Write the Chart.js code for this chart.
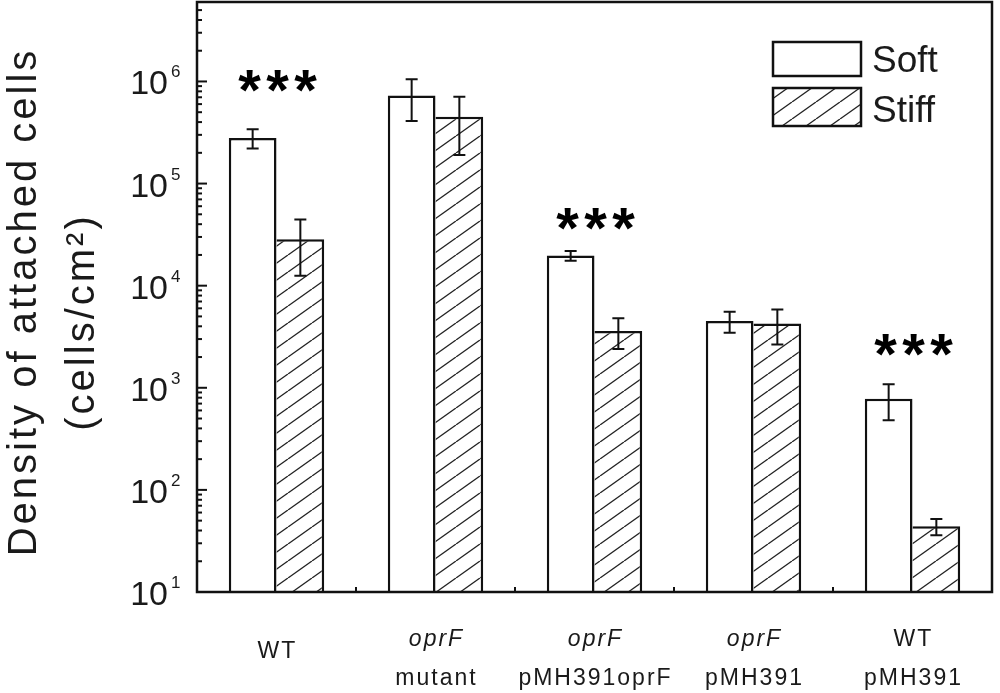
<!DOCTYPE html>
<html>
<head>
<meta charset="utf-8">
<script src="https://cdn.jsdelivr.net/npm/chart.js@4/dist/chart.umd.min.js"></script>
<style>
  html, body { margin: 0; padding: 0; background: #fff; }
  canvas { display: block; }
</style>
</head>
<body>
<canvas id="chart" width="1000" height="693"></canvas>
<script>
// values (cells/cm2, log axis)
const categories = ["WT", "oprF mutant", "oprF pMH391oprF", "oprF pMH391", "WT pMH391"];
const labelLine1 = ["WT", "oprF", "oprF", "oprF", "WT"];
const labelLine2 = ["", "mutant", "pMH391oprF", "pMH391", "pMH391"];
const line1Italic = [false, true, true, true, false];

const softMean = [2.8e5, 7.3e5, 1.97e4, 4.5e3, 780];
const softErr = [6e4, 3.2e5, 2.2e3, 1.05e3, 300];
const stiffMean = [2.85e4, 4.5e5, 3.6e3, 4.25e3, 44];
const stiffErr = [1.6e4, 2.6e5, 1.2e3, 1.6e3, 8];

// where the "***" marks sit (data units), null = no mark
const starLevel = [1e6, null, 4.5e4, null, 2.6e3];

const yMin = 10;
const yMax = 6e6;
const tickExponents = [1, 2, 3, 4, 5, 6];

const FONT = "'Liberation Sans', Arial, sans-serif";
const INK = "#111";

function makeHatch() {
  const w = 24, h = 17;
  const c = document.createElement("canvas");
  c.width = w; c.height = h;
  const g = c.getContext("2d");
  g.fillStyle = "#fff";
  g.fillRect(0, 0, w, h);
  g.strokeStyle = "#222";
  g.lineWidth = 1.3;
  for (let k = -1; k <= 1; k++) {
    g.beginPath();
    g.moveTo(k * w, h);
    g.lineTo(k * w + w, 0);
    g.stroke();
  }
  return g.createPattern(c, "repeat");
}
const hatch = makeHatch();

const errors = [softErr, stiffErr];

const figurePlugin = {
  id: "figure",
  afterDatasetsDraw(chart) {
    const ctx = chart.ctx;
    const area = chart.chartArea;
    const y = chart.scales.y;
    const x = chart.scales.x;

    ctx.save();
    // error bars
    ctx.strokeStyle = INK;
    ctx.lineWidth = 2;
    chart.data.datasets.forEach((ds, di) => {
      const meta = chart.getDatasetMeta(di);
      meta.data.forEach((bar, i) => {
        const v = ds.data[i], e = errors[di][i];
        const yt = y.getPixelForValue(v + e);
        const yb = y.getPixelForValue(Math.max(v - e, yMin));
        ctx.beginPath();
        ctx.moveTo(bar.x, yt); ctx.lineTo(bar.x, yb);
        ctx.moveTo(bar.x - 6, yt); ctx.lineTo(bar.x + 6, yt);
        ctx.moveTo(bar.x - 6, yb); ctx.lineTo(bar.x + 6, yb);
        ctx.stroke();
      });
    });

    // frame
    ctx.lineWidth = 2.5;
    ctx.strokeRect(area.left, area.top, area.right - area.left, area.bottom - area.top);

    // y ticks (inward) and labels
    ctx.lineWidth = 2;
    tickExponents.forEach(ex => {
      for (let m = 1; m <= 9; m++) {
        const v = m * Math.pow(10, ex);
        if (v > yMax) break;
        const py = y.getPixelForValue(v);
        const len = m === 1 ? 10 : 5;
        ctx.beginPath();
        ctx.moveTo(area.left, py); ctx.lineTo(area.left + len, py);
        ctx.stroke();
      }
      const py = y.getPixelForValue(Math.pow(10, ex));
      ctx.fillStyle = "#1a1a1a";
      ctx.font = "34px " + FONT;
      ctx.textAlign = "right";
      ctx.textBaseline = "alphabetic";
      ctx.fillText("10", area.left - 29, py + 13);
      ctx.font = "17px " + FONT;
      ctx.textAlign = "left";
      ctx.fillText(String(ex), area.left - 26, py - 4);
    });

    // x ticks at category boundaries
    const step = (area.right - area.left) / categories.length;
    for (let i = 1; i < categories.length; i++) {
      const px = area.left + i * step;
      ctx.beginPath();
      ctx.moveTo(px, area.bottom); ctx.lineTo(px, area.bottom - 5);
      ctx.stroke();
    }

    // x labels
    ctx.fillStyle = "#1a1a1a";
    ctx.textAlign = "center";
    ctx.letterSpacing = "2px";
    categories.forEach((c, i) => {
      const px = x.getPixelForValue(i) + 1;
      ctx.font = (line1Italic[i] ? "italic " : "") + "23px " + FONT;
      if (labelLine2[i]) {
        ctx.fillText(labelLine1[i], px, 646);
        ctx.font = "23px " + FONT;
        ctx.fillText(labelLine2[i], px, 685);
      } else {
        ctx.fillText(labelLine1[i], px, 658);
      }
    });
    ctx.letterSpacing = "0px";

    // significance stars
    ctx.fillStyle = "#000";
    ctx.font = "bold 58px " + FONT;
    ctx.textAlign = "center";
    const mt = ctx.measureText("*");
    starLevel.forEach((lv, i) => {
      if (lv == null) return;
      const cx = x.getPixelForValue(i) + 1;
      const cy = y.getPixelForValue(lv);
      const base = cy + (mt.actualBoundingBoxAscent - mt.actualBoundingBoxDescent) / 2;
      [-28, 0, 28].forEach(dx => ctx.fillText("*", cx + dx, base));
    });

    // legend
    const legendBoxes = [[42, 76], [88, 126]];
    chart.data.datasets.forEach((ds, di) => {
      const [t, b] = legendBoxes[di];
      ctx.fillStyle = ds.backgroundColor;
      ctx.fillRect(773, t, 88, b - t);
      ctx.strokeStyle = INK;
      ctx.lineWidth = 2.5;
      ctx.strokeRect(773, t, 88, b - t);
      ctx.fillStyle = "#1a1a1a";
      ctx.font = "37px " + FONT;
      ctx.textAlign = "left";
      ctx.fillText(ds.label, 872, b - 4);
    });

    // y title
    ctx.fillStyle = "#1a1a1a";
    ctx.textAlign = "center";
    ctx.font = "40px " + FONT;
    ctx.letterSpacing = "3px";
    ctx.save();
    ctx.translate(36, 302);
    ctx.rotate(-Math.PI / 2);
    ctx.fillText("Density of attached cells", 0, 0);
    ctx.restore();
    ctx.save();
    ctx.translate(94, 322);
    ctx.rotate(-Math.PI / 2);
    ctx.fillText("(cells/cm²)", 0, 0);
    ctx.restore();
    ctx.letterSpacing = "0px";

    ctx.restore();
  }
};

new Chart(document.getElementById("chart"), {
  type: "bar",
  data: {
    labels: categories,
    datasets: [
      {
        label: "Soft",
        data: softMean,
        backgroundColor: "#fff",
        borderColor: INK,
        borderWidth: { left: 2.5, top: 2.5, right: 2.5, bottom: 0 },
        borderSkipped: false,
        categoryPercentage: 0.6,
        barPercentage: 1.0
      },
      {
        label: "Stiff",
        data: stiffMean,
        backgroundColor: hatch,
        borderColor: INK,
        borderWidth: { left: 0, top: 2.5, right: 2.5, bottom: 0 },
        borderSkipped: false,
        categoryPercentage: 0.6,
        barPercentage: 1.0
      }
    ]
  },
  options: {
    responsive: false,
    animation: false,
    layout: { padding: { left: 197, right: 8, top: 2, bottom: 101 } },
    plugins: { legend: { display: false }, tooltip: { enabled: false } },
    scales: {
      x: { type: "category", display: false, offset: true },
      y: { type: "logarithmic", display: false, min: yMin, max: yMax }
    }
  },
  plugins: [figurePlugin]
});
</script>
</body>
</html>
